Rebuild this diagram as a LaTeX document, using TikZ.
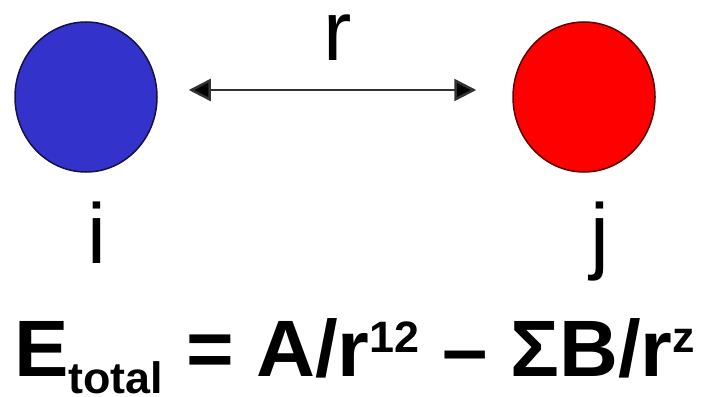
\documentclass[tikz,border=0pt]{standalone}
\usepackage{fontspec}
\setmainfont{Liberation Sans}
\usepackage{tikz}
\usetikzlibrary{shapes.geometric,arrows.meta,positioning}
\definecolor{atomblue}{RGB}{51,51,204}
\definecolor{atomred}{RGB}{255,0,0}
\tikzset{
  atm/.style={ellipse,draw,line width=1.5pt,minimum width=142pt,minimum height=150pt,inner sep=0pt},
  lbl/.style={anchor=base,inner sep=0pt,text height=44pt,text depth=0pt,font=\fontsize{85}{85}\selectfont},
  arr/.style={<->,>={Triangle[length=22pt,width=22pt,fill=black]},line width=2.5pt,draw=black!80},
}
\newcommand{\sml}[1]{{\fontsize{44}{44}\selectfont #1}}

\begin{document}
\begin{tikzpicture}[x=1pt,y=-1pt]
  \useasboundingbox (0,0) rectangle (703,396);
  \node[atm,fill=atomblue,draw=atomblue!35!black] (ai) at (86,97) {};
  \node[atm,fill=atomred,draw=atomred!35!black] (aj) at (584,97) {};
  \draw[arr,shorten <=31pt,shorten >=36pt] ([yshift=7pt]ai.east) -- ([yshift=7pt]aj.west);
  \node[lbl] (dist) at (338,60) {r};
  \node[lbl] (li) at (97,263) {i};
  \node[lbl] (lj) at (600,263) {j};
  % energy expression
  \node[anchor=base west,inner sep=0pt,text depth=0pt,font=\fontsize{80}{80}\selectfont\bfseries] (etot) at (14,376)
    {\scalebox{1.02}[1]{E\raisebox{-17pt}{\sml{total}} = A/r\raisebox{24pt}{\sml{12}} – ΣB/r\raisebox{24pt}{\sml{z}}}};
\end{tikzpicture}
\end{document}
